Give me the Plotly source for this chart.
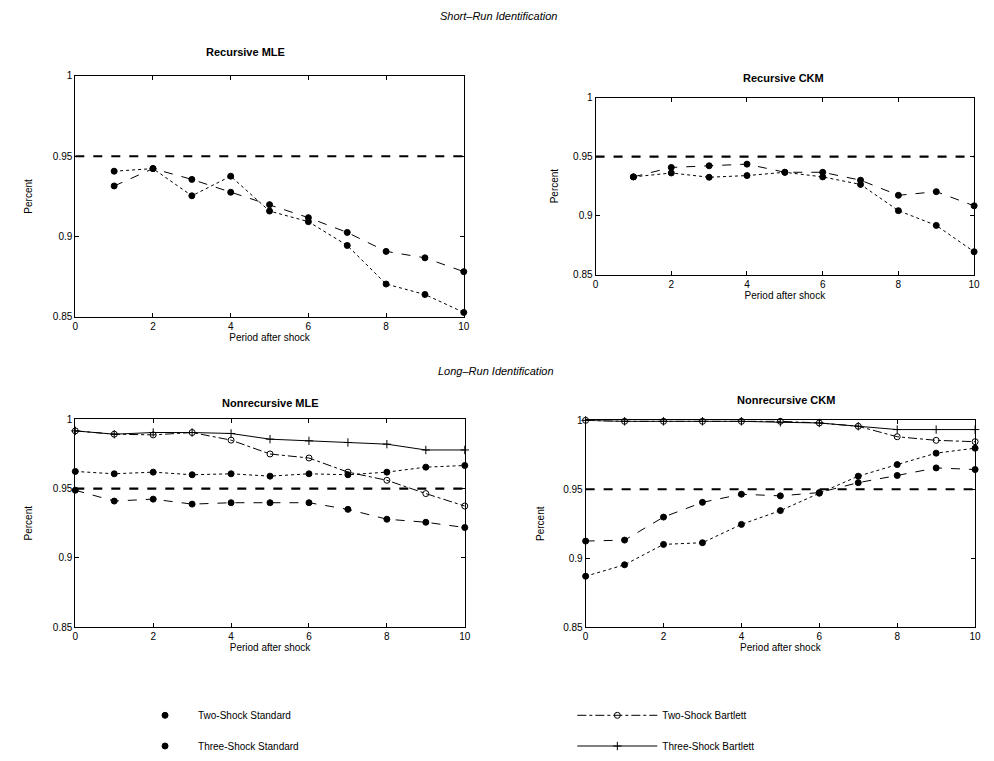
import plotly.graph_objects as go

# ---------------- data ----------------
periods_sr = [1, 2, 3, 4, 5, 6, 7, 8, 9, 10]
periods_lr = [0, 1, 2, 3, 4, 5, 6, 7, 8, 9, 10]
target = 0.95

sr_mle_two = [0.9315, 0.9423, 0.9356, 0.9276, 0.9199, 0.9118, 0.9026, 0.8908, 0.8868, 0.8782]
sr_mle_three = [0.9407, 0.9423, 0.9254, 0.9376, 0.9159, 0.9093, 0.8945, 0.8705, 0.8640, 0.8528]

sr_ckm_two = [0.9328, 0.9408, 0.9422, 0.9436, 0.9367, 0.9367, 0.9300, 0.9172, 0.9203, 0.9083]
sr_ckm_three = [0.9328, 0.9361, 0.9325, 0.9339, 0.9367, 0.9328, 0.9264, 0.9042, 0.8917, 0.8694]

lr_mle_two_std = [0.9488, 0.9410, 0.9424, 0.9388, 0.9398, 0.9398, 0.9398, 0.9350, 0.9279, 0.9257, 0.9219]
lr_mle_three_std = [0.9624, 0.9607, 0.9619, 0.9600, 0.9607, 0.9590, 0.9607, 0.9600, 0.9619, 0.9655, 0.9667]
lr_mle_two_bart = [0.9917, 0.9893, 0.9888, 0.9905, 0.9850, 0.9750, 0.9721, 0.9619, 0.9560, 0.9464, 0.9374]
lr_mle_three_bart = [0.9917, 0.9893, 0.9905, 0.9905, 0.9898, 0.9857, 0.9845, 0.9833, 0.9821, 0.9779, 0.9779]

lr_ckm_two_std = [0.9124, 0.9131, 0.9298, 0.9405, 0.9464, 0.9452, 0.9476, 0.9548, 0.9600, 0.9655, 0.9643]
lr_ckm_three_std = [0.8869, 0.8952, 0.9100, 0.9112, 0.9245, 0.9345, 0.9471, 0.9595, 0.9679, 0.9762, 0.9798]
lr_ckm_two_bart = [1.0, 0.9993, 0.9993, 0.9993, 0.9993, 0.9993, 0.9981, 0.9957, 0.9881, 0.9855, 0.9845]
lr_ckm_three_bart = [1.0, 0.9993, 0.9993, 0.9993, 0.9993, 0.9986, 0.9981, 0.9957, 0.9933, 0.9933, 0.9933]

x_ticks = [0, 2, 4, 6, 8, 10]
y_ticks = [0.85, 0.9, 0.95, 1.0]
y_tick_text = ["0.85", "0.9", "0.95", "1"]

series_names = ["Two-Shock Standard", "Three-Shock Standard", "Two-Shock Bartlett", "Three-Shock Bartlett"]

# ---------------- styles ----------------
FONT = "Liberation Sans, Arial, sans-serif"
style = {
    "Two-Shock Standard": dict(dash="dash", symbol="circle"),
    "Three-Shock Standard": dict(dash="dot", symbol="circle"),
    "Two-Shock Bartlett": dict(dash="dashdot", symbol="circle-open"),
    "Three-Shock Bartlett": dict(dash="solid", symbol="cross-thin-open"),
}

fig = go.Figure()

panels = [
    ("x", "y", [0.0734, 0.4678], [0.5848, 0.9067],
     periods_sr, [("Two-Shock Standard", sr_mle_two), ("Three-Shock Standard", sr_mle_three)]),
    ("x2", "y2", [0.6016, 0.9859], [0.6413, 0.8778],
     periods_sr, [("Two-Shock Standard", sr_ckm_two), ("Three-Shock Standard", sr_ckm_three)]),
    ("x3", "y3", [0.0734, 0.4688], [0.1708, 0.4481],
     periods_lr, [("Two-Shock Standard", lr_mle_two_std), ("Three-Shock Standard", lr_mle_three_std),
                  ("Two-Shock Bartlett", lr_mle_two_bart), ("Three-Shock Bartlett", lr_mle_three_bart)]),
    ("x4", "y4", [0.5915, 0.9869], [0.1708, 0.4468],
     periods_lr, [("Two-Shock Standard", lr_ckm_two_std), ("Three-Shock Standard", lr_ckm_three_std),
                  ("Two-Shock Bartlett", lr_ckm_two_bart), ("Three-Shock Bartlett", lr_ckm_three_bart)]),
]
ytitle_standoff = [18, 12, 18, 16]

for i, (xa, ya, xd, yd, xs, series) in enumerate(panels):
    for name, vals in series:
        st = style[name]
        fig.add_trace(go.Scatter(
            x=xs, y=vals, xaxis=xa, yaxis=ya, name=name, mode="lines+markers",
            line=dict(color="black", width=1, dash=st["dash"]),
            marker=dict(symbol=st["symbol"], size=6, color="black",
                        line=dict(color="black", width=1)),
            showlegend=False, cliponaxis=False))
    fig.add_trace(go.Scatter(
        x=[x_ticks[0], x_ticks[-1]], y=[target, target], xaxis=xa, yaxis=ya, mode="lines",
        line=dict(color="black", width=2.2, dash="dash"), showlegend=False, hoverinfo="skip"))
    sfx = "" if i == 0 else str(i + 1)
    axis_common = dict(showline=True, linecolor="black", linewidth=1, mirror="ticks",
                       ticks="inside", ticklen=4, tickcolor="black", showgrid=False,
                       zeroline=False, tickfont=dict(family=FONT, size=10, color="black"))
    fig.update_layout(**{
        "xaxis" + sfx: dict(domain=xd, range=[0, 10], tickvals=x_ticks, anchor=ya,
                            title=dict(text="Period after shock", standoff=2,
                                       font=dict(family=FONT, size=10, color="black")),
                            **axis_common),
        "yaxis" + sfx: dict(domain=yd, range=[0.85, 1.0], tickvals=y_ticks, ticktext=y_tick_text,
                            anchor=xa,
                            title=dict(text="Percent", standoff=ytitle_standoff[i],
                                       font=dict(family=FONT, size=10, color="black")),
                            **axis_common),
    })

# legend-only entries (one legend each, positioned like the original)
legend_pos = {
    "Two-Shock Standard": ("legend", 0.131, 0.053, 56),
    "Three-Shock Standard": ("legend2", 0.131, 0.012, 56),
    "Two-Shock Bartlett": ("legend3", 0.578, 0.053, 80),
    "Three-Shock Bartlett": ("legend4", 0.578, 0.012, 80),
}
for name in series_names:
    st = style[name]
    lg, lx, ly, iw = legend_pos[name]
    is_std = "Standard" in name
    fig.add_trace(go.Scatter(
        x=[None], y=[None], xaxis="x3", yaxis="y3", name=name,
        mode="markers" if is_std else "lines+markers",
        line=dict(color="black", width=1, dash=st["dash"]),
        marker=dict(symbol=st["symbol"], size=6, color="black", line=dict(color="black", width=1)),
        showlegend=True, legend=lg))
    fig.update_layout(**{lg: dict(x=lx, y=ly, xanchor="left", yanchor="middle",
                                  bgcolor="rgba(0,0,0,0)", itemwidth=iw,
                                  font=dict(family=FONT, size=10, color="black"))})

annots = [
    ("<i>Short\u2013Run Identification</i>", 0.503, 0.987),
    ("<b>Recursive MLE</b>", 0.2465, 0.938),
    ("<b>Recursive CKM</b>", 0.7928, 0.904),
    ("<i>Long\u2013Run Identification</i>", 0.5, 0.5125),
    ("<b>Nonrecursive MLE</b>", 0.2716, 0.4704),
    ("<b>Nonrecursive CKM</b>", 0.7948, 0.4744),
]
for text, ax_, ay_ in annots:
    fig.add_annotation(text=text, x=ax_, y=ay_, xref="paper", yref="paper",
                       xanchor="center", yanchor="middle", showarrow=False,
                       font=dict(family=FONT, size=11, color="black"))

fig.update_layout(width=994, height=761, margin=dict(l=0, r=0, t=0, b=0),
                  paper_bgcolor="white", plot_bgcolor="white",
                  font=dict(family=FONT, size=10, color="black"))

fig.write_html("out.html")
